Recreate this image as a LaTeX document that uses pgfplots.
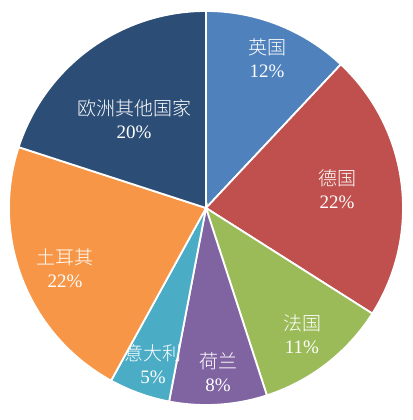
\documentclass[border=0pt]{standalone}
\usepackage{pgfplots}
\pgfplotsset{compat=1.18}
\usepackage{fontspec}
\setmainfont{Liberation Serif}
\newfontfamily\cjk{Noto Sans CJK SC}[UprightFont={* Light}]

\definecolor{cUK}{HTML}{4F81BD}
\definecolor{cDE}{HTML}{C0504D}
\definecolor{cFR}{HTML}{9BBB59}
\definecolor{cNL}{HTML}{8064A2}
\definecolor{cIT}{HTML}{4BACC6}
\definecolor{cTR}{HTML}{F79646}
\definecolor{cEU}{HTML}{2C4D75}

% #1 = cumulative share before this slice (%), #2 = share (%), #3 = colour
\newcommand{\slice}[3]{%
  \fill[#3, draw=white, line width=1.8pt]
    (axis cs:206,212) -- ++({90-3.6*#1}:197pt)
    arc[start angle={90-3.6*#1}, end angle={90-3.6*(#1+#2)}, radius=197pt]
    -- cycle;
}
\newcommand{\lab}[3]{%
  \node[white, align=center, font=\fontsize{19}{23}\selectfont]
    at (axis cs:#1,#2) {#3};
}

\begin{document}
\begin{tikzpicture}
\begin{axis}[
  name=ax,
  hide axis,
  scale only axis,
  width=412pt, height=420pt,
  xmin=0, xmax=412,
  ymin=0, ymax=420,
  clip=false,
]
  \slice{0}{12}{cUK}   \lab{267}{362}{{\cjk 英国}\\12\%}
  \slice{12}{22}{cDE}  \lab{337}{231}{{\cjk 德国}\\22\%}
  \slice{34}{11}{cFR}  \lab{302}{86}{{\cjk 法国}\\11\%}
  \slice{45}{8}{cNL}   \lab{218}{47.5}{{\cjk 荷兰}\\8\%}
  \slice{53}{5}{cIT}   \lab{153}{56}{{\cjk 意大利}\\5\%}
  \slice{58}{22}{cTR}  \lab{65}{151.5}{{\cjk 土耳其}\\22\%}
  \slice{80}{20}{cEU}  \lab{134}{301}{{\cjk 欧洲其他国家}\\20\%}
\end{axis}
\pgfresetboundingbox
\path (ax.south west) rectangle (ax.north east);
\end{tikzpicture}
\end{document}
